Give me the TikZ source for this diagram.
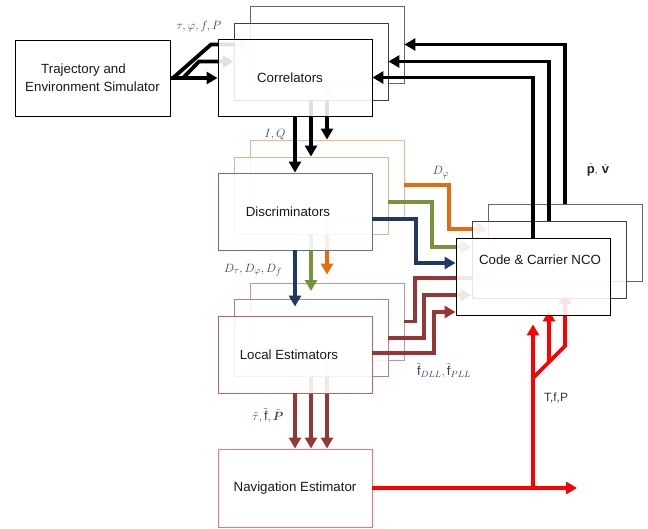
\documentclass[tikz,border=0pt]{standalone}
\usepackage{amsmath}
\usepackage{fontspec}
\setmainfont{Liberation Sans}
\usetikzlibrary{arrows.meta,calc}
\definecolor{labc}{HTML}{2E4470}
\definecolor{bluec}{HTML}{1F3864}
\definecolor{blueb}{HTML}{5B7396}
\definecolor{greenc}{HTML}{77933C}
\definecolor{greenb}{HTML}{B5C98E}
\definecolor{orangec}{HTML}{E46C0A}
\definecolor{orangeb}{HTML}{F6B48A}
\definecolor{darkred}{HTML}{953735}
\definecolor{redb}{HTML}{B86565}
\definecolor{redc}{HTML}{FF0000}
\definecolor{navb}{HTML}{FF6F6F}
\begin{document}
\begin{tikzpicture}[x=1pt,y=-1pt,
  box/.style={draw, line width=0.9pt, fill=white, minimum width=154pt, minimum height=77pt,
    inner sep=0pt, font=\fontsize{13.3}{18}\selectfont, text=black!90},
  ghost/.style={fill opacity=0.88, text opacity=1},
  arr/.style={line width=3.8pt, -{Triangle[length=11pt,width=12pt]}},
  lab/.style={font=\fontsize{13}{15}\selectfont, text=labc, inner sep=0pt}]
\useasboundingbox (0,0) rectangle (648,529);

% ---------- back layer ----------
\node[box, minimum width=155pt, minimum height=76pt, align=center] (traj) at (92.5,78)
  {Trajectory and\hspace*{18pt}\\Environment Simulator};
\node[box, draw=black!60] (corrC) at (327,44.5) {};
\node[box, draw=orangeb] (discC) at (327,178.5) {};
\node[box, draw=redb!70] (locC) at (327,321.5) {};
\node[box, draw=black!60] (ncoC) at (565,243) {};
\node[box, draw=navb, minimum height=78pt] (nav) at (295,488) {Navigation Estimator};

\draw[arr] (173,78) -- (211,44.5) -- (corrC.west);
\draw[arr] (ncoC.north) |- (corrC.east);
\draw[arr] (corrC.south) -- (discC.north);
\draw[arr, orangec] (discC.east |- 0,185) -| (449,229) -- (ncoC.west |- 0,229);
\draw[arr, orangec, shorten >=8pt] (discC.south) -- (locC.north);
\draw[arr, darkred] (locC.east) -| (415,278) -- (ncoC.west |- 0,278);
\draw[arr, darkred] (locC.south) -- (locC.south |- nav.north);
\draw[arr, redc, shorten >=11pt] (533,378) -- (565,346) -- (ncoC.south);

% ---------- middle layer ----------
\node[box, ghost, draw=black!75] (corrB) at (311,61.5) {};
\node[box, ghost, draw=greenb] (discB) at (311,195.5) {};
\node[box, ghost, draw=redb!85] (locB) at (311,338) {};
\node[box, ghost, draw=black!75] (ncoB) at (549,259.5) {};

\draw[arr] (183,78) -- (199,61.5) -- (corrB.west);
\draw[arr] (ncoB.north) |- (corrB.east);
\draw[arr] (corrB.south) -- (discB.north);
\draw[arr, greenc] (discB.east |- 0,202) -| (432,247) -- (ncoB.west |- 0,247);
\draw[arr, greenc, shorten >=8pt] (discB.south) -- (locB.north);
\draw[arr, darkred] (locB.east) -| (424,295) -- (ncoB.west |- 0,295);
\draw[arr, darkred] (locB.south) -- (locB.south |- nav.north);
\draw[arr, redc, shorten >=12pt] (549,362) -- (ncoB.south);

% ---------- front layer ----------
\node[box, ghost, draw=black] (corrA) at (295,77.5) {Correlators\hspace*{10pt}};
\node[box, ghost, draw=blueb] (discA) at (295,211.5) {Discriminators\hspace*{14pt}};
\node[box, ghost, draw=redb] (locA) at (295,354.5) {Local Estimators\hspace*{12pt}};
\node[box, ghost, draw=black] (ncoA) at (533,276.5) {};
\node[font=\fontsize{13.3}{16}\selectfont, text=black!90, inner sep=0pt] (ncoT) at (540,260) {Code \& Carrier NCO};

\draw[arr] (traj.east) -- (traj.east -| corrA.west);
\draw[arr] (ncoA.north) |- (corrA.east);
\draw[arr] (corrA.south) -- (discA.north);
\draw[arr, bluec] (discA.east |- 0,219) -| (416,263) -- (ncoA.west |- 0,263);
\draw[arr, bluec, shorten >=9pt] (discA.south) -- (locA.north);
\draw[arr, darkred] (locA.east |- 0,353) -| (434,312) -- (ncoA.west |- 0,312);
\draw[arr, darkred] (locA.south) -- (nav.north);
\coordinate (out) at (577,488);
\draw[arr, redc] (nav.east) -- (out);
\draw[arr, redc, shorten >=9pt] (nav.east -| ncoA.south) -- (ncoA.south);

% ---------- labels ----------
\node[lab] (l1) at (199,27) {$\tau, \varphi, f, P$};
\node[lab] (l2) at (275,135) {$I, Q$};
\node[lab] (l3) at (441,172) {$D_\varphi$};
\node[lab] (l4) at (253,270) {$D_\tau, D_\varphi, D_f$};
\node[lab, text=black!85] (l5) at (598,170) {$\hat{\mathbf{p}},\, \hat{\mathbf{v}}$};
\node[lab] (l6) at (444,371) {$\tilde{\mathrm{f}}_{DLL}, \tilde{\mathrm{f}}_{PLL}$};
\node[lab] (l7) at (268,416) {$\tilde{\tau}, \tilde{\mathrm{f}}, \tilde{\boldsymbol{P}}$};
\node[font=\fontsize{12}{14}\selectfont, text=black!80, inner sep=0pt] (l8) at (556,398) {T,f,P};
\end{tikzpicture}
\end{document}
